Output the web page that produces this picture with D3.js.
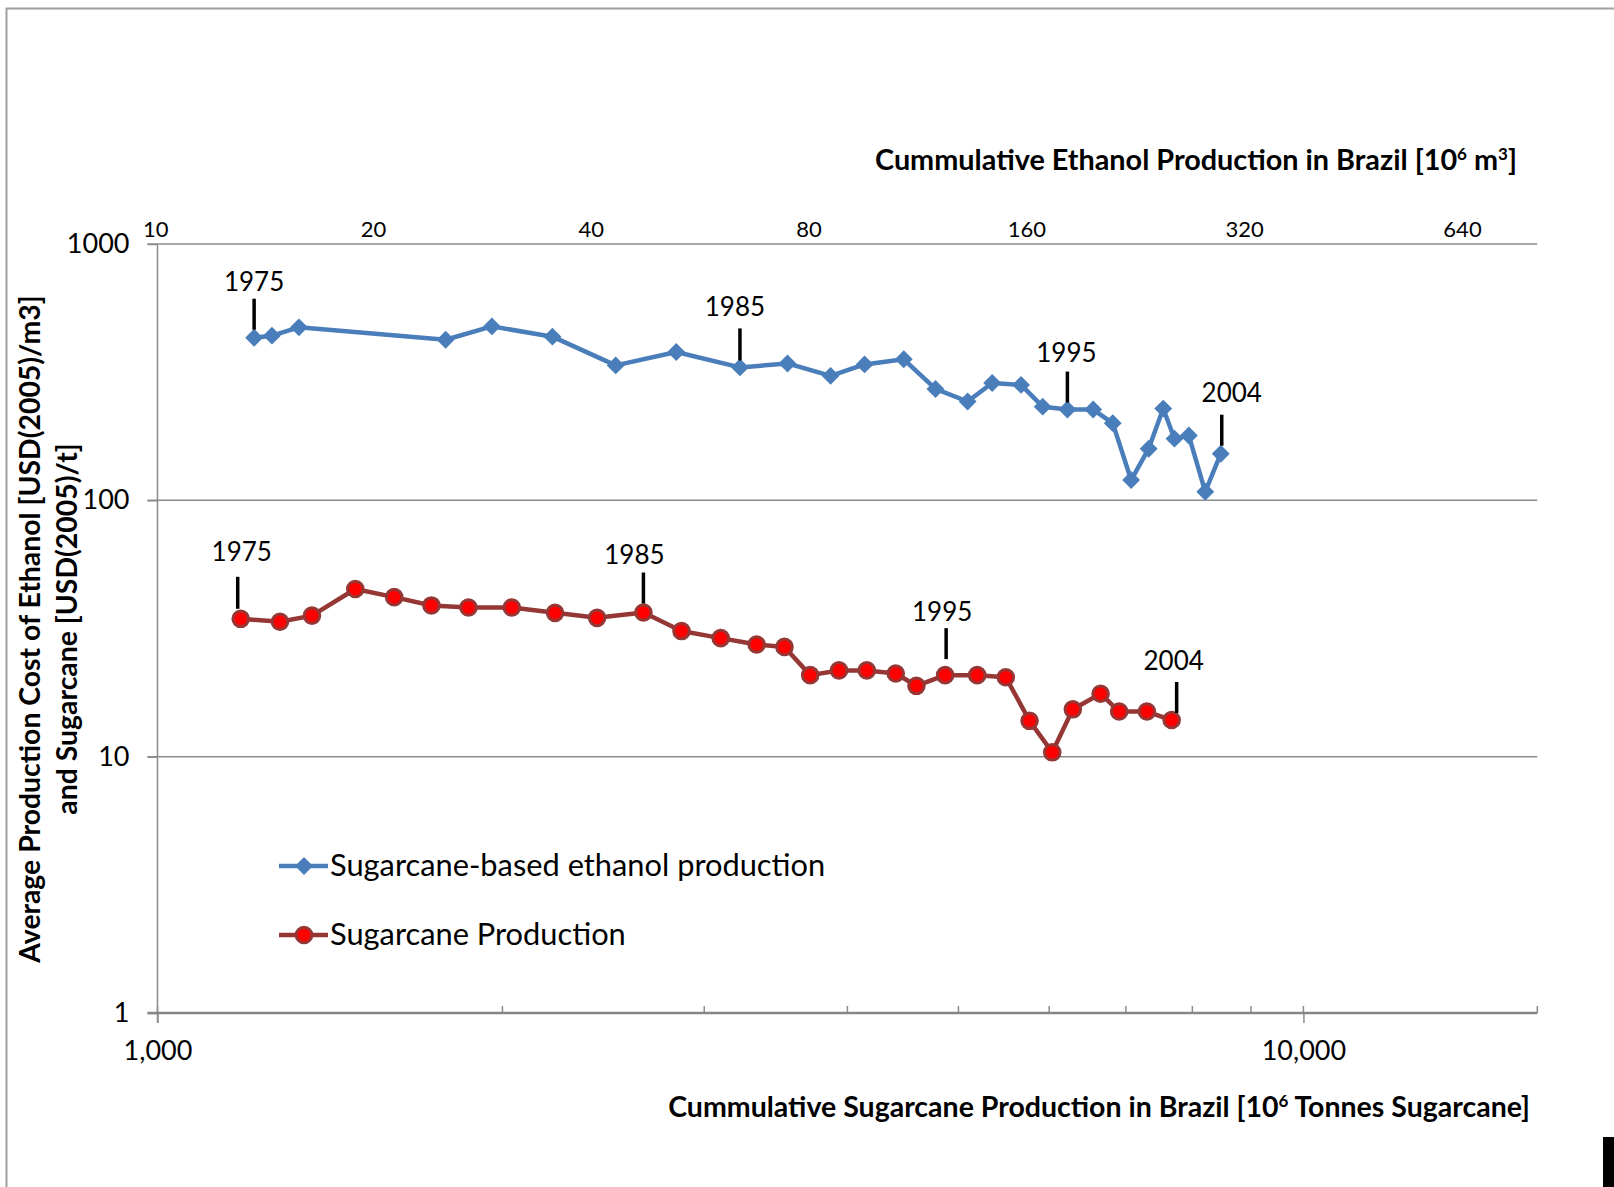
<!DOCTYPE html>
<html><head><meta charset="utf-8">
<script src="https://cdn.jsdelivr.net/npm/d3@7"></script>
<style>
html,body{margin:0;padding:0;background:#fff;}
svg{display:block;}
text{font-family:Lato,"Open Sans",sans-serif;fill:#000;}
</style></head><body>
<div id="chart"></div>
<script>
// ---------------- data ----------------
const ethanolCumulative = [13.7,14.5,15.8,25.2,29.2,35.4,43.3,52.5,64.3,74.8,85.8,95.6,108.3,119.8,132.7,143.5,157.3,168.5,182.3,197.9,210.6,223.3,236.1,247.3,256.3,268.3,282.7,297.0];
const ethanolCost = [431,439,473,423,477,435,336,379,330,342,306,339,355,272,243,287,282,232,226,226,200,120,159,228,174,179,108,152];
const sugarcaneCumulative = [1182,1279,1364,1488,1609,1734,1868,2038,2223,2419,2655,2866,3101,3333,3525,3712,3933,4159,4408,4595,4868,5192,5499,5768,6037,6292,6653,6906,7302,7674];
const sugarcaneCost = [34.5,33.6,35.5,45.1,41.9,38.9,38.2,38.2,36.4,34.8,36.5,30.9,29.0,27.4,26.8,20.8,21.7,21.7,21.1,18.9,20.8,20.8,20.4,13.8,10.4,15.3,17.6,15.0,15.0,13.9];
const labelYears = ["1975","1985","1995","2004"];
const ethanolLabelIndex = [0, 8, 18, 27];
const sugarcaneLabelIndex = [0, 10, 20, 29];
const yTickValues = [1, 10, 100, 1000];
const xBottomTickValues = [1000, 10000];
const xMinorTickValues = [2000,3000,4000,5000,6000,7000,8000,9000,16000];
const xTopTickValues = [10, 20, 40, 80, 160, 320, 640];
const seriesNames = ["Sugarcane-based ethanol production", "Sugarcane Production"];

// ---------------- styling / layout ----------------
const W = 1614, H = 1187;
const plot = {left: 157.5, right: 1537.3, top: 244, bottom: 1013};
const gridColor = "#8c8c8c";
const blue = "#4a7ebb", red = "#953735", redFill = "#ff0000";
// annotation offsets: [tick dx, tick top, tick bottom, label dx, label baseline] relative to point
const ethanolAnnoStyle = [[0,-39,-8,0,-47],[0,-39,-7,-5,-51],[0,-38,-7,-1,-48],[1,-39,-8,11,-52]];
const sugarAnnoStyle = [[-3,-42,-10,1,-58],[0,-40,-9,-9,-49],[1,-47,-16,-3,-54],[5,-38,-7,2,-50]];

const svg = d3.select("#chart").append("svg").attr("width", W).attr("height", H);
svg.append("rect").attr("width", W).attr("height", H).attr("fill", "#fff");
svg.append("path").attr("d", `M6.5,${H}V8.5H${W}`).attr("fill", "none")
  .attr("stroke", "#a0a0a0").attr("stroke-width", 2);
svg.append("rect").attr("x", 1603).attr("y", 1137).attr("width", 11).attr("height", 50).attr("fill", "#000");

const x = d3.scaleLog().domain([1000, 16000]).range([plot.left, plot.right]);
const xTop = d3.scaleLog().base(2).domain([10, 640]).range([155.2, 1462]);
const y = d3.scaleLog().domain([1, 1000]).range([plot.bottom, plot.top]);

// gridlines
svg.append("g").selectAll("line").data([10, 100, 1000]).join("line")
  .attr("x1", plot.left - 10).attr("x2", plot.right)
  .attr("y1", d => y(d)).attr("y2", d => y(d))
  .attr("stroke", gridColor).attr("stroke-width", 1.5);

// y axis
const gy = svg.append("g").attr("transform", `translate(${plot.left},0)`)
  .call(d3.axisLeft(y).tickValues(yTickValues).tickFormat(d3.format("d"))
    .tickSize(10).tickSizeOuter(0).tickPadding(18));
gy.select(".domain").remove();
gy.selectAll(".tick line").attr("stroke", gridColor).attr("stroke-width", 1.5);
gy.selectAll(".tick text").attr("font-size", 27).attr("font-family", "Lato").attr("fill", "#000");
svg.append("line").attr("x1", plot.left).attr("x2", plot.left)
  .attr("y1", plot.top).attr("y2", plot.bottom + 10)
  .attr("stroke", gridColor).attr("stroke-width", 1.5);

// bottom axis
const gx = svg.append("g").attr("transform", `translate(0,${plot.bottom})`)
  .call(d3.axisBottom(x).tickValues(xBottomTickValues).tickFormat(d3.format(","))
    .tickSize(10).tickSizeOuter(0).tickPadding(18));
gx.select(".domain").remove();
gx.selectAll(".tick line").attr("stroke", gridColor).attr("stroke-width", 1.5);
gx.selectAll(".tick text").attr("font-size", 27).attr("font-family", "Lato").attr("fill", "#000");
gx.append("g").selectAll("line").data(xMinorTickValues.concat(xBottomTickValues)).join("line")
  .attr("x1", d => x(d)).attr("x2", d => x(d)).attr("y1", -7).attr("y2", 0)
  .attr("stroke", gridColor).attr("stroke-width", 1.5);
gx.append("line").attr("x1", plot.left - 10).attr("x2", plot.right).attr("y1", 0).attr("y2", 0)
  .attr("stroke", "#868686").attr("stroke-width", 2.5);

// top axis (labels only)
const gt = svg.append("g").attr("transform", `translate(0,${plot.top})`)
  .call(d3.axisTop(xTop).tickValues(xTopTickValues).tickFormat(d3.format("d"))
    .tickSize(0).tickPadding(7));
gt.select(".domain").remove();
gt.selectAll(".tick text").attr("font-size", 22).attr("font-family", "Lato").attr("fill", "#000");

// data
const ethanol = ethanolCumulative.map((v, i) => ({x: v, y: ethanolCost[i]}));
const sugar = sugarcaneCumulative.map((v, i) => ({x: v, y: sugarcaneCost[i]}));

const lineE = d3.line().x(d => xTop(d.x)).y(d => y(d.y));
const lineS = d3.line().x(d => x(d.x)).y(d => y(d.y));

svg.append("path").datum(ethanol).attr("d", lineE).attr("fill", "none")
  .attr("stroke", blue).attr("stroke-width", 4.5).attr("stroke-linejoin", "round");
const diamond = d3.symbol().type(d3.symbolSquare).size(160);
svg.append("g").selectAll("path").data(ethanol).join("path")
  .attr("d", diamond)
  .attr("transform", d => `translate(${xTop(d.x)},${y(d.y)}) rotate(45)`)
  .attr("fill", blue);

svg.append("path").datum(sugar).attr("d", lineS).attr("fill", "none")
  .attr("stroke", red).attr("stroke-width", 4.5).attr("stroke-linejoin", "round");
svg.append("g").selectAll("circle").data(sugar).join("circle")
  .attr("cx", d => x(d.x)).attr("cy", d => y(d.y)).attr("r", 7.8)
  .attr("fill", redFill).attr("stroke", red).attr("stroke-width", 3);

// year annotations
function annotate(points, idxs, styles, sx) {
  const g = svg.append("g");
  idxs.forEach((idx, k) => {
    const p = points[idx], st = styles[k];
    const px = sx(p.x), py = y(p.y);
    g.append("line").attr("x1", px + st[0]).attr("x2", px + st[0])
      .attr("y1", py + st[1]).attr("y2", py + st[2])
      .attr("stroke", "#000").attr("stroke-width", 3.5);
    g.append("text").attr("x", px + st[3]).attr("y", py + st[4])
      .attr("text-anchor", "middle").attr("font-size", 26).text(labelYears[k]);
  });
}
annotate(ethanol, ethanolLabelIndex, ethanolAnnoStyle, xTop);
annotate(sugar, sugarcaneLabelIndex, sugarAnnoStyle, x);

// legend
const legend = svg.append("g");
const legendRows = [
  {name: seriesNames[0], y: 866, type: "diamond"},
  {name: seriesNames[1], y: 935, type: "circle"}
];
legendRows.forEach(r => {
  legend.append("line").attr("x1", 279).attr("x2", 328).attr("y1", r.y).attr("y2", r.y)
    .attr("stroke", r.type === "diamond" ? blue : red).attr("stroke-width", 4.5);
  if (r.type === "diamond") {
    legend.append("path").attr("d", diamond).attr("transform", `translate(304,${r.y}) rotate(45)`).attr("fill", blue);
  } else {
    legend.append("circle").attr("cx", 304).attr("cy", r.y).attr("r", 7.8)
      .attr("fill", redFill).attr("stroke", red).attr("stroke-width", 3);
  }
  legend.append("text").attr("x", 330).attr("y", r.y + 10).attr("font-size", 30.8).text(r.name);
});

// axis titles
function supTitle(xx, yy, size, parts) {
  const t = svg.append("text").attr("x", xx).attr("y", yy).attr("text-anchor", "end")
    .attr("font-weight", "bold").attr("font-size", size);
  parts.forEach(p => {
    const ts = t.append("tspan").text(p[0]);
    if (p[1]) ts.attr("font-size", 17).attr("dy", -10);
    else if (p[2]) ts.attr("dy", 10);
  });
  return t;
}
supTitle(1517, 170, 28.8, [["Cummulative Ethanol Production in Brazil [10"], ["6", true], [" m", false, true], ["3", true], ["]", false, true]]);
supTitle(1530, 1117, 28.5, [["Cummulative Sugarcane Production in Brazil [10"], ["6", true], [" Tonnes Sugarcane]", false, true]]);

svg.append("text").attr("transform", "translate(39.5,629) rotate(-90)")
  .attr("text-anchor", "middle").attr("font-weight", "bold").attr("font-size", 28.4)
  .text("Average Production Cost of Ethanol [USD(2005)/m3]");
svg.append("text").attr("transform", "translate(76.5,629) rotate(-90)")
  .attr("text-anchor", "middle").attr("font-weight", "bold").attr("font-size", 28.4)
  .text("and Sugarcane [USD(2005)/t]");
</script></body></html>
